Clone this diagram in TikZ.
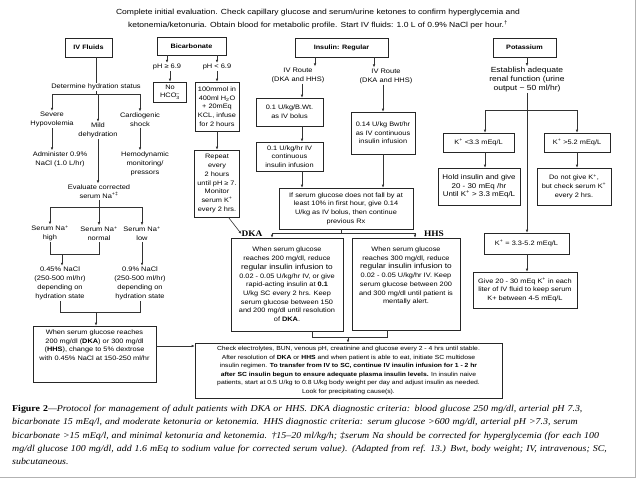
\documentclass[tikz,border=0pt]{standalone}
\usepackage{fontspec}
\setmainfont{Liberation Sans}[FakeStretch=1.15]
\newfontfamily\capserif{Liberation Serif}[FakeStretch=1.1]
\usetikzlibrary{arrows.meta}
\usetikzlibrary{calc}

\tikzset{
  flowbox/.style={draw=black!85, line width=0.6pt, align=center, inner sep=1pt,
    font=\fontsize{6.4}{8.7}\selectfont},
  flowtext/.style={align=center, inner sep=1pt, font=\fontsize{6.5}{9}\selectfont},
  headbox/.style={draw=black!85, line width=0.8pt, align=center,
    font=\fontsize{6.3}{8}\selectfont\bfseries},
  flowline/.style={draw=black!80, line width=0.6pt},
  flowarrow/.style={flowline, -{Latex[length=3pt,width=2.6pt]}},
  casetag/.style={inner sep=0pt, font=\capserif\bfseries\fontsize{8.5}{10}\selectfont},
}

\begin{document}
\begin{tikzpicture}[x=1pt,y=-1pt]
    \useasboundingbox (0,0) rectangle (638,479);
    \fill[white] (0,0) rectangle (638,479);
    \draw[black!30, line width=0.8pt] (635,0) -- (635,477) -- (0,477);

    % title
    \node[align=center, font=\fontsize{7.4}{13}\selectfont] (title) at (318,19)
        {Complete initial evaluation. Check capillary glucose and serum/urine ketones to confirm hyperglycemia and\\
         ketonemia/ketonuria. Obtain blood for metabolic profile. Start IV fluids: 1.0 L of 0.9\% NaCl per hour.\textsuperscript{†}};

    % column heads
    \node[headbox, minimum width=47, minimum height=19] (hIV) at (88.5,47.5) {IV Fluids};
    \node[headbox, minimum width=69, minimum height=18] (hBic) at (191.5,46) {Bicarbonate};
    \node[headbox, minimum width=93, minimum height=19] (hIns) at (341.5,47.5) {Insulin: Regular};
    \node[headbox, minimum width=63, minimum height=19] (hPot) at (524.5,47.5) {Potassium};

    % IV fluids
    \node[flowtext] (det) at (96,87) {Determine hydration status};
    \node[flowtext] (sev) at (52,119.5) {Severe\\Hypovolemia};
    \node[flowtext] (mild) at (98,130.5) {Mild\\dehydration};
    \node[flowtext] (card) at (140,119.5) {Cardiogenic\\shock};
    \node[flowtext] (adm) at (60,159) {Administer 0.9\%\\NaCl (1.0 L/hr)};
    \node[flowtext] (hemo) at (145,163.5) {Hemodynamic\\monitoring/\\pressors};
    \node[flowtext] (eval) at (99,191.5) {Evaluate corrected\\serum Na\textsuperscript{+‡}};
    \node[flowtext] (nahi) at (50,233.5) {Serum Na\textsuperscript{+}\\high};
    \node[flowtext] (nanorm) at (99,233.5) {Serum Na\textsuperscript{+}\\normal};
    \node[flowtext] (nalow) at (142,233.5) {Serum Na\textsuperscript{+}\\low};
    \node[flowtext] (fhalf) at (60,283.5) {0.45\% NaCl\\(250-500 ml/hr)\\depending on\\hydration state};
    \node[flowtext] (ffull) at (140,283.5) {0.9\% NaCl\\(250-500 ml/hr)\\depending on\\hydration state};
    \node[flowbox, minimum width=123, minimum height=56] (dex) at (94.5,354)
        {When serum glucose  reaches\\200 mg/dl (\textbf{DKA}) or 300 mg/dl\\(\textbf{HHS}), change to 5\% dextrose\\with 0.45\% NaCl at 150-250 ml/hr\\~\\~};

    \coordinate (detS) at (96,94);
    \coordinate (evS) at (99,207);
    \coordinate (hnS) at (62,254);
    \coordinate (fS) at (96,312);
    \draw[flowline] (hIV.south -| det.north) -- (det.north);
    \draw[flowline] (det.south) -- (detS);
    \draw[flowline] (sev.north |- detS) -- (card.north |- detS);
    \draw[flowarrow] (sev.north |- detS) -- (sev.north);
    \draw[flowarrow] (mild.north |- detS) -- (mild.north);
    \draw[flowarrow] (card.north |- detS) -- (card.north);
    \draw[flowarrow] (sev.south) -- (sev.south |- adm.north);
    \draw[flowarrow] (card.south) -- (card.south |- hemo.north);
    \draw[flowarrow] (mild.south) -- (mild.south |- eval.north);
    \draw[flowline] (eval.south) -- (evS);
    \draw[flowline] (nahi.north |- evS) -- (nalow.north |- evS);
    \draw[flowarrow] (nahi.north |- evS) -- (nahi.north);
    \draw[flowarrow] (evS) -- (nanorm.north);
    \draw[flowarrow] (nalow.north |- evS) -- (nalow.north);
    \draw[flowline] (nahi.south) -- (nahi.south |- hnS) -- (nanorm.south |- hnS) -- (nanorm.south);
    \draw[flowarrow] (hnS) -- (hnS |- fhalf.north);
    \draw[flowarrow] (nalow.south) -- (nalow.south |- ffull.north);
    \draw[flowline] (fhalf.south) -- (fhalf.south |- fS) -- (ffull.south |- fS) -- (ffull.south);
    \draw[flowarrow] (fS) -- (fS |- dex.north);

    % bicarbonate
    \node[flowtext] (phge) at (167,67) {pH ≥ 6.9};
    \node[flowtext] (phlt) at (217,67) {pH < 6.9};
    \node[flowbox, minimum width=33, minimum height=20] (nohco) at (170,92)
        {No\\HCO\rlap{\textsubscript{3}}\textsuperscript{--}};
    \node[flowbox, minimum width=44, minimum height=49] (bicinf) at (217,106.5)
        {100mmol in\\400ml H\textsubscript{2}O\\+ 20mEq\\KCL, infuse\\for 2 hours};
    \node[flowbox, minimum width=45, minimum height=67] (repeat) at (217,183.5)
        {Repeat\\every\\2 hours\\until pH ≥ 7.\\Monitor\\serum K\textsuperscript{+}\\every 2 hrs.};
    \draw[flowarrow] (hBic.south -| phge.north) -- (phge.north);
    \draw[flowarrow] (hBic.south -| phlt.north) -- (phlt.north);
    \draw[flowarrow] (phge.south -| nohco.north) -- (nohco.north);
    \draw[flowarrow] (phlt.south) -- (bicinf.north);
    \draw[flowarrow] (bicinf.south) -- (repeat.north);

    % insulin
    \coordinate (insL) at (315,0);
    \coordinate (insR) at (374,0);
    \coordinate (colL) at (302,0);
    \node[flowtext] (ivl) at (298,75) {IV Route\\(DKA and HHS)};
    \node[flowtext] (ivr) at (386,76) {IV Route\\(DKA and HHS)};
    \node[flowbox, minimum width=67, minimum height=28] (bolus) at (289.5,112)
        {0.1 U/kg/B.Wt.\\as IV bolus};
    \node[flowbox, minimum width=67, minimum height=29] (cont) at (289.5,156.5)
        {0.1 U/kg/hr IV\\continuous\\insulin infusion};
    \node[flowbox, minimum width=64, minimum height=42] (conthi) at (383,133)
        {0.14 U/kg Bwt/hr\\as IV continuous\\insulin infusion};
    \node[flowbox, minimum width=134, minimum height=41] (nofall) at (346,208.5)
        {If serum glucose does not fall by at\\least 10\% in first hour, give 0.14\\U/kg as IV  bolus, then continue\\previous Rx};
    \draw[flowarrow] (hIns.south -| insL) -- (ivl.north -| insL);
    \draw[flowarrow] (hIns.south -| insR) -- (ivr.north -| insR);
    \draw[flowarrow] (ivl.south -| colL) -- (bolus.north -| colL);
    \draw[flowarrow] (bolus.south -| colL) -- (cont.north -| colL);
    \draw[flowarrow] (cont.south -| colL) -- (nofall.north -| colL);
    \draw[flowarrow] (ivr.south -| conthi.north) -- (conthi.north);
    \draw[flowarrow] (conthi.south) -- (conthi.south |- nofall.north);

    % DKA / HHS
    \node[casetag] (dkatag) at (252,234) {DKA};
    \node[casetag] (hhstag) at (434,234) {HHS};
    \node[flowbox, minimum width=112, minimum height=93] (dkabox) at (287,284.5)
        {When serum glucose\\reaches 200 mg/dl, reduce\\{\fontsize{7.2}{8.7}\selectfont regular insulin infusion to}\\0.02 - 0.05 U/kg/hr IV, or give\\rapid-acting insulin at \textbf{0.1}\\U/kg SC every 2 hrs. Keep\\serum glucose between 150\\and 200 mg/dl until resolution\\of \textbf{DKA}.};
    \node[flowbox, minimum width=108, minimum height=92] (hhsbox) at (406,284)
        {When serum glucose\\reaches 300 mg/dl, reduce\\{\fontsize{7.2}{8.7}\selectfont regular insulin infusion to}\\0.02 - 0.05 U/kg/hr IV.  Keep\\serum glucose between 200\\and 300 mg/dl until patient is\\mentally alert.\\~\\~};
    \coordinate (spl) at (341,233);
    \coordinate (splL) at (272,233);
    \coordinate (splR) at (415,233);
    \draw[flowline] (nofall.south -| spl) -- (spl);
    \draw[flowline] (splL) -- (splR);
    \draw[flowarrow] (splL) -- (splL |- dkabox.north);
    \draw[flowarrow] (splR) -- (splR |- hhsbox.north);
    \draw[flowarrow] ($(repeat.south)!0.5!(repeat.south east)$) -- (dkatag.west);

    % check box
    \node[flowbox, minimum width=307, minimum height=55, font=\fontsize{5.9}{8.5}\selectfont] (check) at (348.5,370.5)
        {Check electrolytes, BUN, venous pH, creatinine and glucose every 2 - 4 hrs until stable.\\
         After resolution of \textbf{DKA} or \textbf{HHS} and when patient is able to eat, initiate SC multidose\\
         insulin regimen. \textbf{To transfer from IV to SC, continue IV insulin infusion for 1 - 2 hr}\\
         \textbf{after SC insulin begun to ensure adequate plasma insulin levels.} In insulin naive\\
         patients, start at 0.5 U/kg to 0.8 U/kg body weight per day and adjust insulin as needed.\\
         Look for precipitating cause(s).};
    \coordinate (jnL) at (312,337);
    \coordinate (jnR) at (387,337);
    \coordinate (jn) at (348,337);
    \coordinate (lnk) at (0,346);
    \draw[flowline] (dkabox.south -| jnL) -- (jnL) -- (jnR) -- (hhsbox.south -| jnR);
    \draw[flowarrow] (jn) -- (jn |- check.north);
    \draw[flowarrow] (dex.east |- lnk) -- (check.west |- lnk);

    % potassium
    \node[flowtext, font=\fontsize{7.4}{8.7}\selectfont] (ren) at (527,79.5) {Establish adequate\\renal function (urine\\output \textasciitilde{} 50 ml/hr)};
    \node[flowbox, minimum width=71, minimum height=19] (klo) at (478.5,142.5) {K\textsuperscript{+} <3.3 mEq/L};
    \node[flowbox, minimum width=66, minimum height=19] (khi) at (577,142.5) {K\textsuperscript{+} >5.2 mEq/L};
    \node[flowbox, minimum width=82, minimum height=37, font=\fontsize{6.9}{8.5}\selectfont] (hold) at (479,186.5)
        {Hold insulin and give\\20 - 30 mEq /hr\\Until K\textsuperscript{+} > 3.3 mEq/L};
    \node[flowbox, minimum width=74, minimum height=37] (nogive) at (574,186.5)
        {Do not give K\textsuperscript{+},\\but check serum K\textsuperscript{+}\\every 2 hrs.};
    \node[flowbox, minimum width=85, minimum height=21] (kmid) at (526.5,243.5) {K\textsuperscript{+} = 3.3-5.2 mEq/L};
    \node[flowbox, minimum width=104, minimum height=36] (give) at (525,290)
        {Give 20 - 30 mEq K\textsuperscript{+} in each\\liter of IV  fluid to keep serum\\K+ between 4-5 mEq/L};
    \coordinate (kL) at (485,110);
    \coordinate (kR) at (577,110);
    \draw[flowarrow] (hPot.south -| ren.north) -- (ren.north);
    \draw[flowarrow] (ren.south) -- (ren.south |- kmid.north);
    \draw[flowline] (kL) -- (kR);
    \draw[flowarrow] (kL) -- (kL |- klo.north);
    \draw[flowarrow] (kR) -- (kR |- khi.north);
    \draw[flowarrow] (klo.south -| kL) -- (hold.north -| kL);
    \draw[flowarrow] (khi.south -| kR) -- (nogive.north -| kR);
    \draw[flowarrow] (kmid.south -| ren.south) -- (give.north -| ren.south);

    % caption
    \node[anchor=north west, inner sep=0pt, text width=616pt, align=left,
          font=\capserif\itshape\fontsize{9}{13.3}\selectfont] (caption) at (12,405)
        {\makebox[616pt][s]{{\upshape\bfseries Figure 2}—Protocol for management of adult patients with DKA or HHS. DKA diagnostic criteria: blood glucose 250 mg/dl, arterial pH 7.3,}\\
         \makebox[616pt][s]{bicarbonate 15 mEq/l, and moderate ketonuria or ketonemia. HHS diagnostic criteria: serum glucose >600 mg/dl, arterial pH >7.3, serum}\\
         \makebox[616pt][s]{bicarbonate >15 mEq/l, and minimal ketonuria and ketonemia. †15–20 ml/kg/h; ‡serum Na should be corrected for hyperglycemia (for each 100}\\
         \makebox[616pt][s]{mg/dl glucose 100 mg/dl, add 1.6 mEq to sodium value for corrected serum value). (Adapted from ref. 13.) Bwt, body weight; IV, intravenous; SC,}\\
         subcutaneous.};
\end{tikzpicture}
\end{document}
